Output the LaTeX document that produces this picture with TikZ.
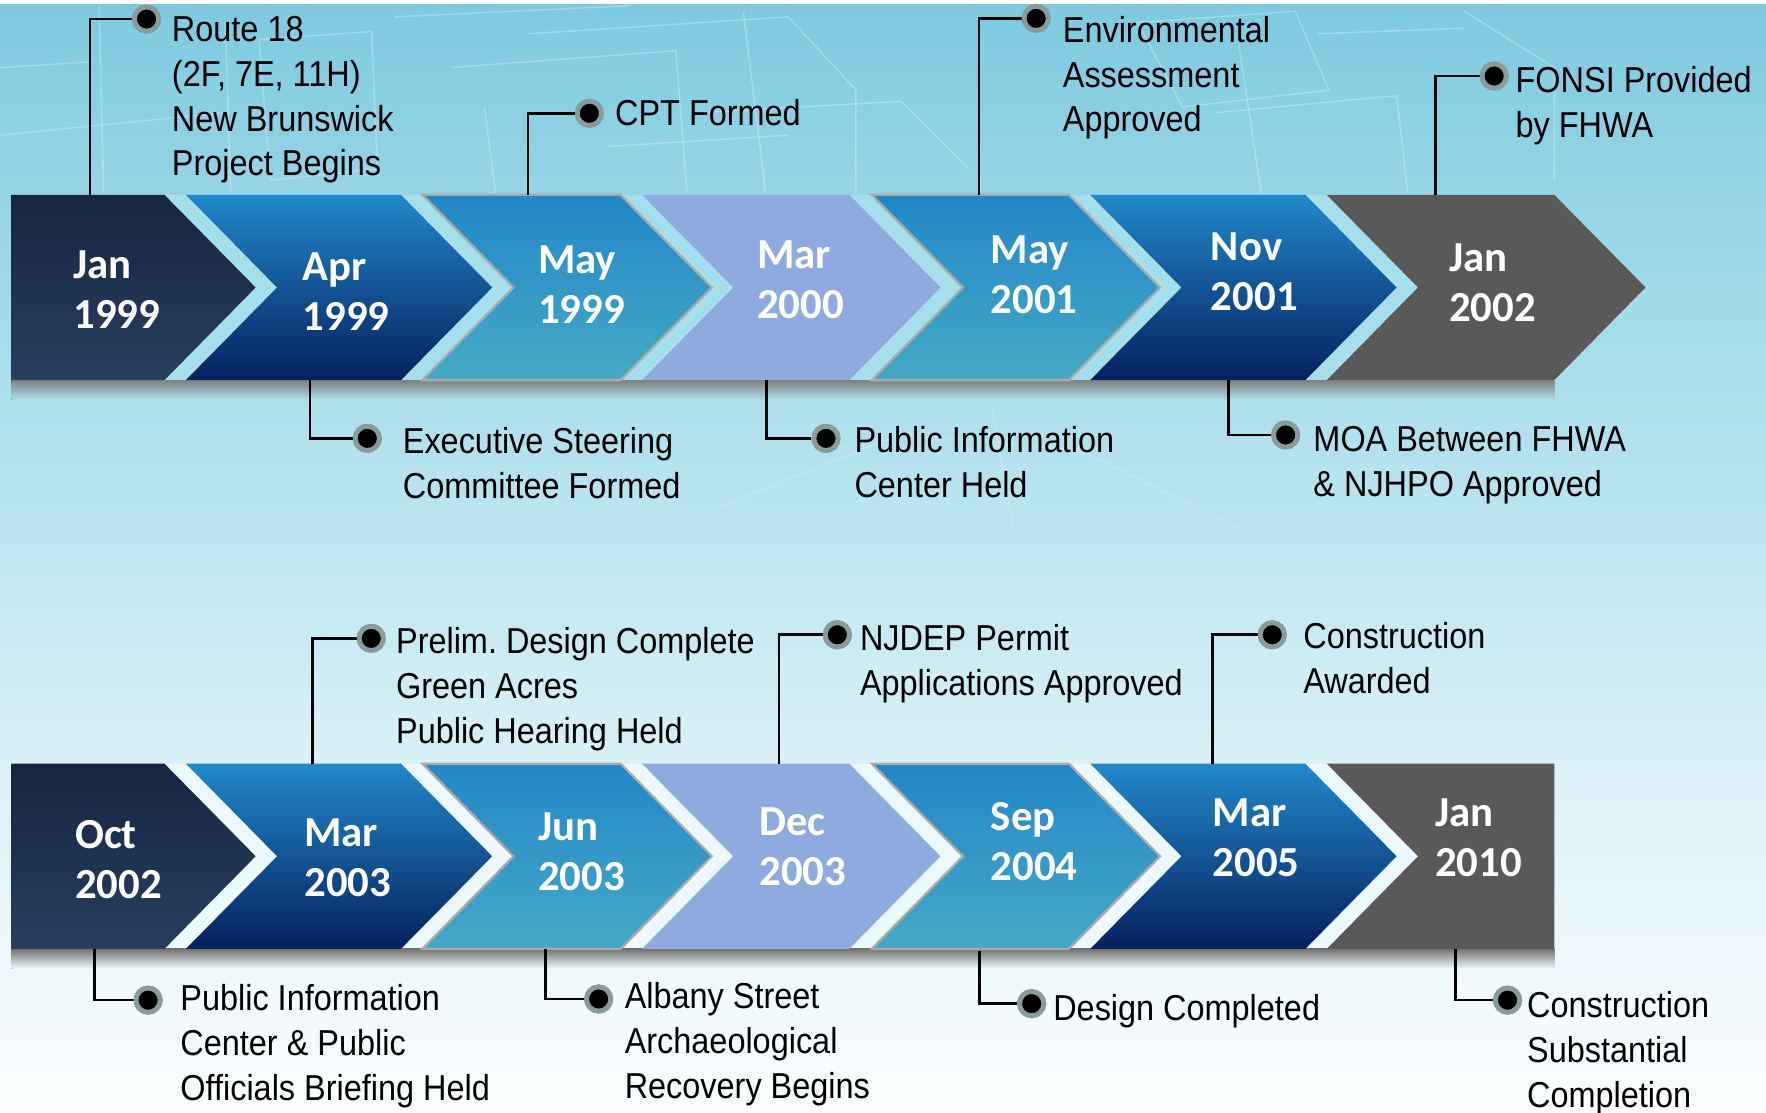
\documentclass[tikz,border=0pt]{standalone}
\usepackage{fontspec}
\newfontfamily\datefont{Carlito}
\newfontfamily\lblfont[FakeStretch=0.9]{Liberation Sans}
\definecolor{navyT}{RGB}{22,38,65}
\definecolor{navyB}{RGB}{40,62,95}
\definecolor{blueT}{RGB}{33,136,202}
\definecolor{blueB}{RGB}{6,32,95}
\definecolor{tealT}{RGB}{35,135,200}
\definecolor{tealB}{RGB}{68,170,197}
\definecolor{peri}{RGB}{142,170,222}
\definecolor{slate}{RGB}{89,89,89}
\definecolor{ringgray}{RGB}{138,155,155}
\definecolor{bgA}{RGB}{124,202,224}
\definecolor{bgB}{RGB}{151,213,230}
\definecolor{bgC}{RGB}{188,230,240}
\definecolor{bgD}{RGB}{221,242,248}
\definecolor{bgE}{RGB}{252,254,255}
\definecolor{gapA}{RGB}{166,222,236}
\definecolor{gapB}{RGB}{236,248,252}
\definecolor{edgegray}{RGB}{170,170,170}
\definecolor{shadowA}{RGB}{173,223,236}
\definecolor{shadowB}{RGB}{238,249,252}
\newcommand{\tlchev}[5]{\path[#1] (#2,#4) -- (#3,#4) -- ({#3+81},{(#4+#5)/2}) -- (#3,#5) -- (#2,#5) -- ({#2+81},{(#4+#5)/2}) -- cycle;}
\newcommand{\tlfirst}[5]{\path[#1] (#2,#4) -- (#3,#4) -- ({#3+81},{(#4+#5)/2}) -- (#3,#5) -- (#2,#5) -- cycle;}
\newcommand{\tllast}[5]{\path[#1] (#2,#4) -- (#3,#4) -- (#3,#5) -- (#2,#5) -- ({#2+81},{(#4+#5)/2}) -- cycle;}
\begin{document}
\frenchspacing
\begin{tikzpicture}[x=1pt,y=-1pt,
  datestyle/.style={text=white, font=\datefont\bfseries\fontsize{38}{44.4}\selectfont, align=left, inner sep=0pt, anchor=north west},
  lbl/.style={text=black, font=\lblfont\frenchspacing\fontsize{32}{39.8}\selectfont, align=left, inner sep=0pt, anchor=north west},
  dotnode/.style={circle, fill=black, draw=ringgray, line width=4.3pt, minimum size=21.5pt, inner sep=0pt},
  conn/.style={draw=black, line width=2.4pt},
  navy/.style={top color=navyT, bottom color=navyB},
  blueg/.style={top color=blueT, bottom color=blueB},
  tealg/.style={top color=tealT, bottom color=tealB, draw=edgegray, line width=2pt},
  perig/.style={fill=peri},
  grayg/.style={fill=slate},
  wire/.style={draw=white, line width=1.3pt, opacity=0.28}]
\useasboundingbox (0,0) rectangle (1568,988);
% background
\fill[top color=bgA, bottom color=bgB] (0,0) rectangle (1568,181);
\fill[top color=bgB, bottom color=bgC] (0,180) rectangle (1568,471);
\fill[top color=bgC, bottom color=bgD] (0,470) rectangle (1568,701);
\fill[top color=bgD, bottom color=bgE] (0,700) rectangle (1568,988);
\fill[white] (0,0) rectangle (1568,3.5);
% faint wireframe
\draw[wire] (88,5) -- (92,172);
\draw[wire] (200,20) -- (205,170);
\draw[wire] (230,35) -- (330,28) -- (335,150) -- (240,160) -- cycle;
\draw[wire] (350,15) -- (560,5);
\draw[wire] (400,60) -- (600,45) -- (610,170);
\draw[wire] (430,95) -- (440,172);
\draw[wire] (470,30) -- (700,15) -- (760,80) -- (760,172);
\draw[wire] (620,100) -- (800,90) -- (860,150);
\draw[wire] (540,130) -- (700,120);
\draw[wire] (660,10) -- (680,172);
\draw[wire] (1010,20) -- (1150,10) -- (1180,80) -- (1050,95) -- cycle;
\draw[wire] (1080,100) -- (1240,85) -- (1250,172);
\draw[wire] (1100,40) -- (1120,172);
\draw[wire] (1170,30) -- (1300,25);
\draw[wire] (1300,10) -- (1380,60) -- (1380,160);
\draw[wire] (0,120) -- (200,100);
\draw[wire] (0,60) -- (80,55);
\draw[wire, opacity=0.18] (640,450) -- (800,385) -- (960,400) -- (1100,470);
\draw[wire, opacity=0.18] (880,360) -- (900,470);
% row bands (gap colour) and shadows
\fill[gapA] (10,173) rectangle (1380,337.5);
\fill[top color=black!50, bottom color=shadowA] (10,337.5) rectangle (1380,355);
\fill[gapB] (10,678) rectangle (1380,842.5);
\fill[top color=black!55, bottom color=shadowB] (10,842.5) rectangle (1380,860);
% row 1 chevrons
\tlfirst{navy}{10}{146}{173}{337.5}
\tlchev{blueg}{165}{356}{173}{337.5}
\tlchev{tealg}{375}{551}{173}{337.5}
\tlchev{perig}{570}{754}{173}{337.5}
\tlchev{tealg}{774}{949}{173}{337.5}
\tlchev{blueg}{968}{1159}{173}{337.5}
\tlchev{grayg}{1178}{1380}{173}{337.5}
% row 2 chevrons
\tlfirst{navy}{10}{146}{678}{842.5}
\tlchev{blueg}{165}{356}{678}{842.5}
\tlchev{tealg}{375}{551}{678}{842.5}
\tlchev{perig}{570}{754}{678}{842.5}
\tlchev{tealg}{774}{949}{678}{842.5}
\tlchev{blueg}{968}{1159}{678}{842.5}
\tllast{grayg}{1178}{1380}{678}{842.5}
% dates row 1
\node[datestyle] (t1) at (65,222.5) {Jan\\1999};
\node[datestyle] (t2) at (268.5,223.9) {Apr\\1999};
\node[datestyle] (t3) at (477.5,218) {May\\1999};
\node[datestyle] (t4) at (672,213.6) {Mar\\2000};
\node[datestyle] (t5) at (879.5,209.1) {May\\2001};
\node[datestyle] (t6) at (1075,206.2) {Nov\\2001};
\node[datestyle] (t7) at (1286.5,216.5) {Jan\\2002};
% dates row 2
\node[datestyle] (u1) at (66.5,728) {Oct\\2002};
\node[datestyle] (u2) at (270,726.4) {Mar\\2003};
\node[datestyle] (u3) at (477.5,721.7) {Jun\\2003};
\node[datestyle] (u4) at (674,717) {Dec\\2003};
\node[datestyle] (u5) at (879.5,712.3) {Sep\\2004};
\node[datestyle] (u6) at (1076.5,709.1) {Mar\\2005};
\node[datestyle] (u7) at (1274,709.1) {Jan\\2010};
% connector start points
\coordinate (s1) at (79.9,173);
\coordinate (s2) at (468.9,173);
\coordinate (s3) at (869.1,173);
\coordinate (s4) at (1274.4,173);
\coordinate (s5) at (275.2,337.5);
\coordinate (s6) at (680.7,337.5);
\coordinate (s7) at (1090.5,337.5);
\coordinate (s8) at (277.6,678);
\coordinate (s9) at (691.7,678);
\coordinate (s10) at (1076.6,678);
\coordinate (s11) at (83.9,842.5);
\coordinate (s12) at (484.2,842.5);
\coordinate (s13) at (869.7,844);
\coordinate (s14) at (1292.4,842.5);
% dots
\node[dotnode] (d1) at (130.1,16.9) {};
\node[dotnode] (d2) at (523.3,100.6) {};
\node[dotnode] (d3) at (920,16.3) {};
\node[dotnode] (d4) at (1326.6,67.5) {};
\node[dotnode] (d5) at (326.1,389.2) {};
\node[dotnode] (d6) at (733.4,389.2) {};
\node[dotnode] (d7) at (1141.5,386.2) {};
\node[dotnode] (d8) at (329.6,566.8) {};
\node[dotnode] (d9) at (743.4,563.6) {};
\node[dotnode] (d10) at (1129.6,563.6) {};
\node[dotnode] (d11) at (131.5,888) {};
\node[dotnode] (d12) at (531.5,887) {};
\node[dotnode] (d13) at (916,891.1) {};
\node[dotnode] (d14) at (1338.5,888) {};
% connectors
\foreach \i in {1,...,14} { \draw[conn] (s\i) |- (d\i); }
\foreach \i in {1,...,14} { \node[dotnode] at (d\i) {}; }
% labels
\node[lbl] (l1) at (152.5,14.2) {Route 18\\(2F, 7E, 11H)\\New Brunswick\\Project Begins};
\node[lbl] (l2) at (546,88.2) {CPT Formed};
\node[lbl] (l3) at (943.5,14.2) {Environmental\\Assessment\\Approved};
\node[lbl] (l4) at (1345.5,58.6) {FONSI Provided\\by FHWA};
\node[lbl] (l5) at (357.5,379.7) {Executive Steering\\Committee Formed};
\node[lbl] (l6) at (758.5,378.2) {Public Information\\Center Held};
\node[lbl] (l7) at (1166,378.2) {MOA Between FHWA\\\& NJHPO Approved};
\node[lbl] (l8) at (351.5,557.2) {Prelim. Design Complete\\Green Acres\\Public Hearing Held};
\node[lbl] (l9) at (763.4,554.3) {NJDEP Permit\\Applications Approved};
\node[lbl] (l10) at (1157,552.7) {Construction\\Awarded};
\node[lbl] (l11) at (160,873.7) {Public Information\\Center \& Public\\Officials Briefing Held};
\node[lbl] (l12) at (554.5,872.2) {Albany Street\\Archaeological\\Recovery Begins};
\node[lbl] (l13) at (935,883.1) {Design Completed};
\node[lbl] (l14) at (1355.7,879.9) {Construction\\Substantial\\Completion};
\end{tikzpicture}
\end{document}
